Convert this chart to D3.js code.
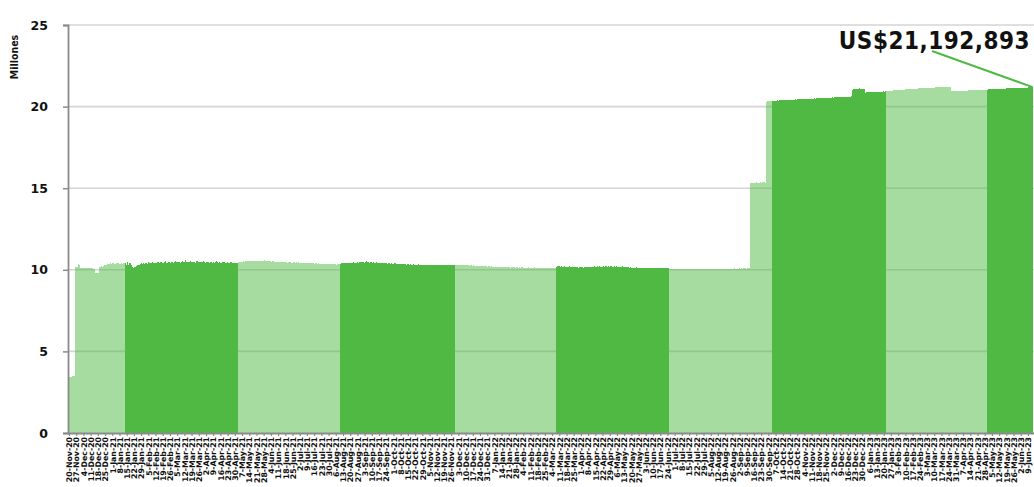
<!DOCTYPE html>
<html>
<head>
<meta charset="utf-8">
<script src="https://cdn.jsdelivr.net/npm/d3@7"></script>
<style>
  body { margin: 0; background: #fff; overflow: hidden; }
  svg { display: block; }
  .lbl { font-family: "DejaVu Sans Condensed", "DejaVu Sans", sans-serif; font-stretch: condensed; font-weight: bold; fill: #111; }
</style>
</head>
<body>
<svg id="chart"></svg>
<script>
// first day of the series, one value per calendar day after it
const startDate = "2020-11-20";

// start of each shaded period (light / dark alternate)
const periodStarts = ["2020-11-20", "2021-01-13", "2021-05-03", "2021-08-10", "2021-11-30",
  "2022-03-08", "2022-06-26", "2022-10-04", "2023-01-22", "2023-04-30"];

// daily balance, millions
const balance = [
  3.42, 3.42, 3.45, 3.48, 3.50, 3.52,
  10.15, 10.18, 10.20, 10.33, 10.30,
  10.12, 10.10, 10.08, 10.10, 10.11, 10.09, 10.08, 10.10, 10.12, 10.10, 10.08, 10.09, 10.07, 10.06,
  9.80, 9.78, 9.80, 9.82, 10.15,
  10.20, 10.22, 10.18, 10.25, 10.32, 10.30, 10.28,
  10.35, 10.38, 10.36, 10.40, 10.37, 10.39, 10.41, 10.38, 10.36, 10.40, 10.42, 10.39, 10.37, 10.40, 10.38, 10.41, 10.39,
  // 2021-01-13
  10.42, 10.30, 10.45, 10.28, 10.40, 10.44, 10.30,
  10.15, 10.12, 10.18, 10.20, 10.25, 10.28, 10.30, 10.32,
  10.35, 10.40, 10.38, 10.42, 10.36, 10.44, 10.40, 10.38, 10.45, 10.41,
  10.43, 10.39, 10.47, 10.42, 10.40, 10.44, 10.50, 10.46, 10.41, 10.45,
  10.48, 10.43, 10.40, 10.46, 10.52, 10.44, 10.42, 10.47, 10.45, 10.43,
  10.50, 10.46, 10.44, 10.49, 10.55, 10.48, 10.45, 10.50, 10.47, 10.44,
  10.49, 10.52, 10.46, 10.48, 10.58, 10.50, 10.46, 10.49, 10.53, 10.47,
  10.45, 10.50, 10.48, 10.44, 10.52, 10.56, 10.49, 10.46, 10.50, 10.47,
  10.45, 10.51, 10.48, 10.44, 10.47, 10.50, 10.46, 10.43, 10.48, 10.45,
  10.42, 10.47, 10.44, 10.49, 10.53, 10.46, 10.43, 10.47, 10.44, 10.41,
  10.46, 10.50, 10.44, 10.42, 10.46, 10.43, 10.40, 10.45, 10.48, 10.42,
  10.40, 10.44, 10.41, 10.43, 10.40,
  // 2021-05-03
  10.45, 10.47, 10.48, 10.50, 10.49, 10.51, 10.50, 10.52, 10.51, 10.53,
  10.52, 10.54, 10.53, 10.52, 10.55, 10.54, 10.53, 10.55, 10.56, 10.54,
  10.55, 10.53, 10.56, 10.55, 10.54, 10.57, 10.55, 10.54, 10.56, 10.53,
  10.52, 10.54, 10.50, 10.52, 10.51, 10.49, 10.50, 10.48, 10.50, 10.47,
  10.49, 10.48, 10.46, 10.48, 10.47, 10.45, 10.47, 10.46, 10.44, 10.46,
  10.45, 10.47, 10.44, 10.46, 10.45, 10.43, 10.45, 10.44, 10.46, 10.43,
  10.42, 10.44, 10.43, 10.41, 10.43, 10.42, 10.40, 10.42, 10.41, 10.43,
  10.40, 10.39, 10.41, 10.40, 10.38, 10.40, 10.39, 10.37, 10.39, 10.38,
  10.36, 10.38, 10.37, 10.35, 10.37, 10.36, 10.34, 10.36, 10.35, 10.33,
  10.35, 10.34, 10.33, 10.35, 10.34, 10.32, 10.34, 10.33, 10.35,
  // 2021-08-10
  10.38, 10.40, 10.42, 10.39, 10.41, 10.43, 10.40, 10.42, 10.44, 10.41,
  10.43, 10.40, 10.42, 10.45, 10.43, 10.41, 10.44, 10.46, 10.43, 10.45,
  10.48, 10.50, 10.47, 10.44, 10.46, 10.52, 10.49, 10.46, 10.44, 10.47,
  10.45, 10.43, 10.46, 10.44, 10.42, 10.45, 10.43, 10.41, 10.44, 10.42,
  10.40, 10.43, 10.41, 10.39, 10.42, 10.40, 10.38, 10.41, 10.39, 10.37,
  10.40, 10.38, 10.36, 10.39, 10.37, 10.35, 10.38, 10.36, 10.34, 10.37,
  10.35, 10.33, 10.36, 10.34, 10.32, 10.35, 10.33, 10.31, 10.34, 10.32,
  10.30, 10.33, 10.31, 10.32, 10.30, 10.31, 10.33, 10.30, 10.32, 10.31,
  10.29, 10.31, 10.30, 10.32, 10.30, 10.29, 10.31, 10.30, 10.28, 10.30,
  10.29, 10.31, 10.30, 10.28, 10.30, 10.29, 10.31, 10.30, 10.28, 10.30,
  10.29, 10.27, 10.29, 10.28, 10.30, 10.29, 10.27, 10.28, 10.30, 10.28,
  10.29, 10.27,
  // 2021-11-30
  10.30, 10.31, 10.29, 10.30, 10.32, 10.30, 10.31, 10.29, 10.30, 10.28,
  10.29, 10.27, 10.28, 10.26, 10.28, 10.27, 10.25, 10.27, 10.26, 10.24,
  10.26, 10.25, 10.23, 10.25, 10.24, 10.22, 10.24, 10.23, 10.21, 10.23,
  10.22, 10.20, 10.22, 10.21, 10.19, 10.21, 10.20, 10.18, 10.20, 10.19,
  10.17, 10.19, 10.18, 10.16, 10.18, 10.17, 10.19, 10.18, 10.16, 10.17,
  10.15, 10.17, 10.16, 10.14, 10.16, 10.15, 10.17, 10.15, 10.14, 10.16,
  10.15, 10.13, 10.15, 10.14, 10.16, 10.15, 10.13, 10.14, 10.12, 10.14,
  10.13, 10.15, 10.14, 10.12, 10.14, 10.13, 10.15, 10.14, 10.12, 10.13,
  10.11, 10.13, 10.12, 10.14, 10.13, 10.11, 10.13, 10.12, 10.14, 10.13,
  10.12, 10.14, 10.13, 10.11, 10.13, 10.12, 10.14, 10.13,
  // 2022-03-08
  10.18, 10.22, 10.25, 10.21, 10.19, 10.23, 10.20, 10.18, 10.21, 10.19,
  10.17, 10.20, 10.22, 10.19, 10.16, 10.18, 10.20, 10.17, 10.15, 10.18,
  10.16, 10.14, 10.17, 10.15, 10.18, 10.16, 10.14, 10.16, 10.18, 10.15,
  10.17, 10.19, 10.16, 10.18, 10.20, 10.17, 10.19, 10.21, 10.18, 10.20,
  10.22, 10.19, 10.21, 10.18, 10.20, 10.22, 10.19, 10.21, 10.23, 10.20,
  10.22, 10.19, 10.21, 10.23, 10.20, 10.18, 10.21, 10.19, 10.22, 10.20,
  10.18, 10.20, 10.17, 10.19, 10.21, 10.18, 10.16, 10.18, 10.15, 10.17,
  10.15, 10.13, 10.15, 10.14, 10.12, 10.14, 10.13, 10.15, 10.13, 10.12,
  10.14, 10.12, 10.11, 10.13, 10.12, 10.10, 10.12, 10.11, 10.13, 10.11,
  10.10, 10.12, 10.11, 10.10, 10.12, 10.11, 10.10, 10.11, 10.12, 10.10,
  10.11, 10.10, 10.12, 10.11, 10.10, 10.11, 10.10, 10.12, 10.11, 10.10,
  // 2022-06-26
  10.06, 10.05, 10.06, 10.04, 10.05, 10.06, 10.05, 10.04, 10.05, 10.06,
  10.05, 10.04, 10.05, 10.06, 10.05, 10.04, 10.05, 10.04, 10.05, 10.06,
  10.05, 10.04, 10.05, 10.04, 10.03, 10.04, 10.05, 10.04, 10.03, 10.04,
  10.05, 10.04, 10.03, 10.04, 10.05, 10.04, 10.03, 10.04, 10.05, 10.04,
  10.03, 10.04, 10.05, 10.04, 10.03, 10.04, 10.05, 10.04, 10.05, 10.06,
  10.05, 10.06, 10.05, 10.06, 10.07, 10.06, 10.05, 10.06, 10.07, 10.06,
  10.07, 10.06, 10.07, 10.08, 10.07, 10.06, 10.07, 10.08, 10.07, 10.08,
  10.07, 10.08, 10.09, 10.08, 10.07, 10.08, 10.09, 10.08,
  15.30, 15.32, 15.33, 15.34, 15.33, 15.34, 15.35, 15.34, 15.33, 15.34, 15.35, 15.34, 15.35, 15.36, 15.35, 15.34,
  20.30, 20.32, 20.33, 20.35, 20.36, 20.35,
  // 2022-10-04
  20.36, 20.37, 20.36, 20.37, 20.38, 20.37, 20.38, 20.39, 20.38, 20.39,
  20.40, 20.39, 20.40, 20.41, 20.40, 20.41, 20.42, 20.41, 20.42, 20.43,
  20.42, 20.43, 20.44, 20.43, 20.44, 20.45, 20.44, 20.45, 20.46, 20.45,
  20.46, 20.47, 20.46, 20.47, 20.48, 20.47, 20.48, 20.49, 20.48, 20.49,
  20.50, 20.49, 20.50, 20.51, 20.50, 20.51, 20.52, 20.51, 20.52, 20.53,
  20.52, 20.53, 20.54, 20.53, 20.54, 20.55, 20.54, 20.55, 20.56, 20.55,
  20.56, 20.57, 20.56, 20.57, 20.58, 20.57, 20.58, 20.59, 20.58, 20.59,
  20.60, 20.59, 20.60, 20.61, 20.60, 20.61, 20.62,
  21.02, 21.06, 21.08, 21.09, 21.10, 21.09, 21.10, 21.11, 21.10, 21.09, 21.10, 21.08, 21.06,
  20.86, 20.87, 20.88, 20.87, 20.88, 20.89, 20.88, 20.89, 20.90, 20.89,
  20.90, 20.91, 20.90, 20.91, 20.92, 20.91, 20.92, 20.93, 20.92, 20.93,
  // 2023-01-22
  20.95, 20.96, 20.96, 20.97, 20.97, 20.98, 20.98, 20.99, 20.99, 21.00,
  21.00, 21.01, 21.01, 21.02, 21.02, 21.03, 21.03, 21.04, 21.04, 21.05,
  21.05, 21.06, 21.06, 21.07, 21.07, 21.08, 21.08, 21.09, 21.09, 21.10,
  21.10, 21.11, 21.11, 21.12, 21.12, 21.13, 21.13, 21.14, 21.14, 21.15,
  21.15, 21.15, 21.16, 21.16, 21.16, 21.17, 21.17, 21.17, 21.18, 21.18,
  21.18, 21.19, 21.19, 21.19, 21.20, 21.20, 21.20, 21.21, 21.21, 21.21,
  21.22, 21.22, 21.22,
  20.93, 20.93, 20.94, 20.94, 20.94, 20.95, 20.95, 20.95, 20.96, 20.96,
  20.96, 20.97, 20.97, 20.97, 20.98, 20.98, 20.98, 20.99, 20.99, 20.99,
  21.00, 21.00, 21.00, 21.01, 21.01, 21.01, 21.02, 21.02, 21.02, 21.03,
  21.03, 21.03, 21.04, 21.04, 21.04,
  // 2023-04-30
  21.04, 21.05, 21.05, 21.05, 21.06, 21.06, 21.06, 21.07, 21.07, 21.07,
  21.08, 21.08, 21.08, 21.09, 21.09, 21.09, 21.10, 21.10, 21.10, 21.11,
  21.11, 21.11, 21.12, 21.12, 21.12, 21.13, 21.13, 21.13, 21.14, 21.14,
  21.14, 21.15, 21.15, 21.15, 21.16, 21.16, 21.16, 21.17, 21.17, 21.17,
  21.18, 21.18, 21.18, 21.19, 21.192893
];

const yTicks = [0, 5, 10, 15, 20, 25];
const yTitle = "Millones";
const lastLabel = "US$21,192,893";

const width = 1034;
const height = 487;
const margin = { top: 25, right: 1, bottom: 54, left: 68 };
const green = "#50b944";

const svg = d3.select("#chart")
  .attr("width", width)
  .attr("height", height);

const parse = d3.utcParse("%Y-%m-%d");
const day0 = parse(startDate);
const dates = balance.map((v, i) => d3.utcDay.offset(day0, i));
const data = balance.map((v, i) => ({ date: dates[i], value: v }));
const starts = periodStarts.map(parse);
const periodOf = d => d3.bisectRight(starts, d) - 1;

const x = d3.scaleBand()
  .domain(dates)
  .range([margin.left + 1, margin.left + 1 + dates.length * 1.03])
  .padding(0);

const y = d3.scaleLinear()
  .domain([0, 25])
  .range([height - margin.bottom, margin.top]);

// gridlines
svg.append("g")
  .selectAll("line")
  .data(yTicks.slice(1))
  .join("line")
  .attr("x1", margin.left)
  .attr("x2", width)
  .attr("y1", d => y(d))
  .attr("y2", d => y(d))
  .attr("stroke", "#d4d4d4")
  .attr("stroke-width", 1.6);

// daily bars
svg.append("g")
  .attr("shape-rendering", "crispEdges")
  .selectAll("rect")
  .data(data)
  .join("rect")
  .attr("x", d => x(d.date))
  .attr("y", d => y(d.value))
  .attr("width", x.bandwidth())
  .attr("height", d => y(0) - y(d.value))
  .attr("fill", green)
  .attr("fill-opacity", d => periodOf(d.date) % 2 === 0 ? 0.5 : 1);

// y axis
const yAxis = svg.append("g")
  .attr("transform", `translate(${margin.left},0)`)
  .call(d3.axisLeft(y).tickValues(yTicks).tickSize(5).tickPadding(15));
yAxis.select(".domain").attr("stroke", "#8a8a8a").attr("stroke-width", 1.8);
yAxis.selectAll(".tick line").attr("stroke", "#8a8a8a").attr("stroke-width", 1.5);
yAxis.selectAll("text")
  .attr("class", "lbl")
  .style("font-family", "'DejaVu Sans', sans-serif")
  .style("font-stretch", "normal")
  .style("font-size", "12.5px")
  .attr("fill", "#111");

// x axis with weekly labels
const weekly = dates.filter((d, i) => i % 7 === 0);
const xAxis = svg.append("g")
  .attr("transform", `translate(0,${y(0)})`)
  .call(d3.axisBottom(x).tickValues(weekly).tickSize(3).tickSizeOuter(0)
    .tickFormat(d3.utcFormat("%-d-%b-%y")));
xAxis.select(".domain").attr("stroke", "#8a8a8a").attr("stroke-width", 1.8)
  .attr("d", `M${margin.left},0.5H${width}`);
xAxis.selectAll(".tick line").attr("stroke", "#8a8a8a").attr("stroke-width", 1.2);
xAxis.selectAll("text")
  .attr("class", "lbl")
  .style("font-family", "'DejaVu Sans', sans-serif")
  .style("font-stretch", "normal")
  .style("font-size", "7.8px")
  .attr("fill", "#111")
  .attr("text-anchor", "end")
  .attr("transform", "rotate(-90)")
  .attr("x", -4)
  .attr("y", 0)
  .attr("dy", "0.35em");

// y title
svg.append("text")
  .attr("class", "lbl")
  .attr("transform", "translate(18,57) rotate(-90)")
  .attr("text-anchor", "middle")
  .style("font-size", "10.5px")
  .text(yTitle);

// callout for the last value
const last = data[data.length - 1];
svg.append("line")
  .attr("x1", 932)
  .attr("y1", 51)
  .attr("x2", x(last.date) + x.bandwidth() / 2)
  .attr("y2", y(last.value))
  .attr("stroke", green)
  .attr("stroke-width", 2);

svg.append("text")
  .attr("class", "lbl")
  .attr("x", 1030)
  .attr("y", 49)
  .attr("text-anchor", "end")
  .style("font-size", "24px")
  .style("letter-spacing", "0.5px")
  .text(lastLabel);
</script>
</body>
</html>
